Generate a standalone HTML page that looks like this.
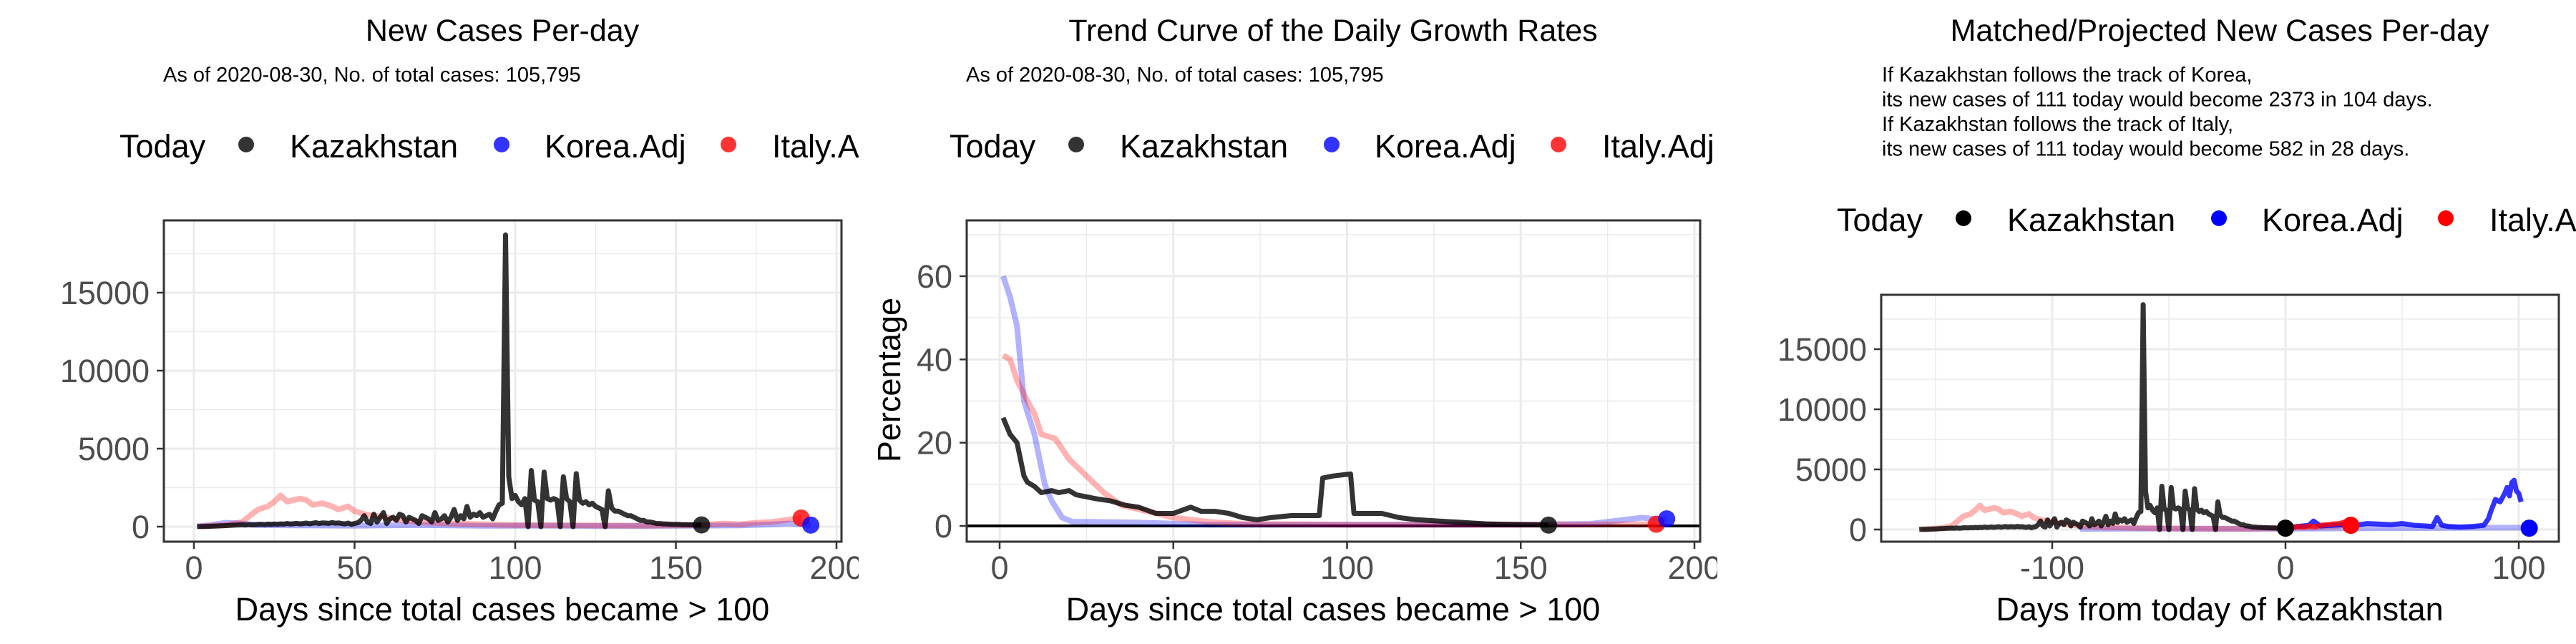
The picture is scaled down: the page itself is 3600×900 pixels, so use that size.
<!DOCTYPE html>
<html><head><meta charset="utf-8"><style>
html,body{margin:0;padding:0;background:#fff;}
body{width:3600px;height:900px;position:relative;overflow:hidden;font-family:"Liberation Sans",Arial,sans-serif;}
svg{position:absolute;top:0;overflow:hidden;}
</style></head><body>
<svg id="p1" width="1200" height="900" style="left:0"></svg>
<svg id="p2" width="1200" height="900" style="left:1200px"></svg>
<svg id="p3" width="1200" height="900" style="left:2400px"></svg>
<script>
// ---- data ----
const kazDaily = [5,15,10,20,25,30,40,50,60,70,80,90,100,110,120,100,130,110,120,140,
150,130,160,140,170,150,180,160,200,170,190,210,180,200,230,190,220,250,200,240,230,210,260,220,240,200,180,230,150,200,
250,400,700,300,200,800,300,600,900,200,500,600,400,800,700,300,600,500,400,200,700,600,500,300,900,400,500,700,300,600,1100,400,700,500,1300,600,800,700,900,600,700,800,500,1000,1400,1500,
18700,3200,1800,2000,1600,1400,1800,0,3600,1700,1600,0,3500,1800,1700,1800,1700,0,3200,1800,1600,0,3400,1700,1500,1600,1400,1500,1300,1200,1100,0,2300,1200,1000,1000,900,800,700,700,600,500,400,400,300,300,250,200,200,180,170,160,150,150,140,130,130,120,120,115,112,111];
const koreaDays = [1,5,10,15,20,30,50,70,90,110,130,150,170,180,185,192];
const koreaVals = [20,100,250,200,100,80,60,100,50,60,40,50,80,150,200,100];
const italyDays = [2,10,15,18,20,23,25,27,29,31,33,35,37,40,43,45,48,50,53,56,60,65,70,75,80,90,100,120,140,158,165,170,175,180,185,189];
const italyVals = [20,100,300,800,1100,1300,1600,2000,1600,1700,1800,1700,1400,1500,1300,1100,1300,1000,800,700,600,400,300,250,200,150,100,80,60,111,200,150,250,300,450,550];
const kazRateDays = [1,3,5,7,8,10,12,15,17,20,22,25,28,32,36,40,45,50,55,58,62,66,70,74,78,84,92,93,96,101,102,105,110,115,120,130,140,150,158];
const kazRateVals = [26,22,20,12,10.5,9.5,8,8.5,8,8.5,7.5,7,6.5,6,5,4.5,3,3,4.5,3.5,3.5,3,2,1.5,2,2.5,2.5,11.5,12,12.5,3,3,3,2,1.5,1,0.5,0.3,0.2];
const korRateDays = [1,3,5,7,10,13,15,18,21,25,40,60,100,150,170,180,185,190,192];
const korRateVals = [60,55,48,30,22,10,6,2,1,1,0.8,0.3,0.3,0.3,0.5,1.5,2,1.5,1.7];
const itaRateDays = [1,3,5,8,10,12,16,20,25,30,35,40,45,50,60,70,100,150,189];
const itaRateVals = [41,40,35,30,27,22,21,16,12,8,5,4,3,2,1,0.5,0.3,0.3,0.4];
const korProjDays = [0,5,10,12,15,20,25,30,35,40,45,50,55,60,63,65,67,70,75,80,85,87,88,90,92,94,95,96,97,98,99,100,101];
const korProjVals = [111,250,350,700,300,350,400,350,500,450,400,500,350,300,250,1000,350,250,200,250,350,900,1500,2500,2300,3000,3500,2800,3900,4100,3200,3000,2300];
const itaProjDays = [0,3,5,8,10,13,15,18,20,23,25,28];
const itaProjVals = [111,150,250,200,300,250,350,400,450,500,600,582];
const korFaintDays = [-88,-60,-30,0,30,60,90,104];
const korFaintVals = [50,80,60,60,100,120,150,150];
const p1XTicks = [0,50,100,150,200];
const p1YTicks = [0,5000,10000,15000];
const p2YTicks = [0,20,40,60];
const p3XTicks = [-100,0,100];

const NS = "http://www.w3.org/2000/svg";
function el(svg, tag, attrs, text){
  const e = document.createElementNS(NS, tag);
  for (const k in attrs) e.setAttribute(k, attrs[k]);
  if (text !== undefined) e.textContent = text;
  svg.appendChild(e);
  return e;
}
function lin(d0,d1,r0,r1){ return v => r0 + (v-d0)/(d1-d0)*(r1-r0); }

function frame(svg, o){
  const sx=o.sx, sy=o.sy;
  o.xMinor.forEach(v=>{ const g=el(svg,'line',{x1:sx(v),x2:sx(v),y1:o.top,y2:o.bottom,stroke:'#ebebeb','stroke-width':1.5});
      });
  o.yMinor.forEach(v=>{ const g=el(svg,'line',{x1:o.left,x2:o.right,y1:sy(v),y2:sy(v),stroke:'#ebebeb','stroke-width':1.5});
      });
  o.xTicks.forEach(v=>{ const g=el(svg,'line',{x1:sx(v),x2:sx(v),y1:o.top,y2:o.bottom,stroke:'#ebebeb','stroke-width':3});
     
    const t=el(svg,'line',{x1:sx(v),x2:sx(v),y1:o.bottom,y2:o.bottom+10,stroke:'#333','stroke-width':2.5});
     
    const l=el(svg,'text',{x:sx(v),y:809,'text-anchor':'middle','font-size':45,fill:'#4d4d4d'},String(v));
      });
  o.yTicks.forEach(v=>{ const g=el(svg,'line',{x1:o.left,x2:o.right,y1:sy(v),y2:sy(v),stroke:'#ebebeb','stroke-width':3});
     
    const t=el(svg,'line',{x1:o.left-10,x2:o.left,y1:sy(v),y2:sy(v),stroke:'#333','stroke-width':2.5});
     
    const l=el(svg,'text',{x:o.left-20,y:sy(v)+16,'text-anchor':'end','font-size':45,fill:'#4d4d4d'},String(v));
      });
}
function border(svg,o){
  const b=el(svg,'rect',{x:o.left,y:o.top,width:o.right-o.left,height:o.bottom-o.top,fill:'none',stroke:'#333','stroke-width':3});
   
}
function line(svg,xs,ys,o,color,op,w,name){
  const d = xs.map((x,i)=>(i?'L':'M')+o.sx(x).toFixed(1)+','+o.sy(ys[i]).toFixed(1)).join('');
  const p=el(svg,'path',{d:d,fill:'none',stroke:color,'stroke-opacity':op,'stroke-width':w,'stroke-linejoin':'round'});
   
}
function dot(svg,x,y,o,color,name){
  const c=el(svg,'circle',{cx:o.sx(x),cy:o.sy(y),r:12,fill:color});
   
}
function legend(svg,y,dx,cols){
  const t=el(svg,'text',{x:167-dx,y:y,'font-size':45,fill:'#000'},'Today');
   
  const items=[['Kazakhstan',344,405,cols[0]],['Korea.Adj',701,761,cols[1]],['Italy.Adj',1018,1079,cols[2]]];
  items.forEach(it=>{
    const c=el(svg,'circle',{cx:it[1]-dx,cy:y-18,r:11,fill:it[3]});
     
    const l=el(svg,'text',{x:it[2]-dx,y:y,'font-size':45,fill:'#000'},it[0]);
     
  });
}
function title(svg,cx,txt){
  const t=el(svg,'text',{x:cx,y:57,'text-anchor':'middle','font-size':43,fill:'#000'},txt);
   
}
function xtitle(svg,cx,txt){
  const t=el(svg,'text',{x:cx,y:867,'text-anchor':'middle','font-size':45,fill:'#000'},txt);
   
}
const dayIdx = kazDaily.map((v,i)=>i+1);
const BK='rgba(0,0,0,0.8)', BL='rgba(0,0,255,0.8)', RD='rgba(255,0,0,0.8)';

// ---- panel 1 ----
(function(){
  const svg=document.getElementById('p1');
  const o={left:229,right:1176,top:308,bottom:757};
  o.sx=lin(0,200,271,1169); o.sy=lin(0,15000,736,409);
  o.xTicks=p1XTicks; o.yTicks=p1YTicks; o.xMinor=[25,75,125,175]; o.yMinor=[2500,7500,12500,17500];
  frame(svg,o);
  line(svg,koreaDays,koreaVals,o,'#0000ff',0.3,8,'korea-line');
  line(svg,italyDays,italyVals,o,'#ff0000',0.3,8,'italy-line');
  line(svg,dayIdx,kazDaily,o,'#000',0.8,7,'kazakhstan-line');
  dot(svg,158,kazDaily[157],o,BK,'kazakhstan-today-point');
  dot(svg,189,italyVals[italyVals.length-1],o,RD,'italy-today-point');
  dot(svg,192,koreaVals[koreaVals.length-1],o,BL,'korea-today-point');
  border(svg,o);
  title(svg,702,'New Cases Per-day');
  const s=el(svg,'text',{x:228,y:114,'font-size':29,fill:'#000'},'As of 2020-08-30, No. of total cases: 105,795');
   
  legend(svg,220,0,[BK,BL,RD]);
  xtitle(svg,702,'Days since total cases became > 100');
})();

// ---- panel 2 ----
(function(){
  const svg=document.getElementById('p2');
  const o={left:151,right:1176,top:308,bottom:757};
  o.sx=lin(0,200,197,1168); o.sy=lin(0,60,735,386);
  o.xTicks=p1XTicks; o.yTicks=p2YTicks; o.xMinor=[25,75,125,175]; o.yMinor=[10,30,50,70];
  frame(svg,o);
  const z=el(svg,'line',{x1:o.left,x2:o.right,y1:o.sy(0),y2:o.sy(0),stroke:'#000','stroke-width':4});
   
  line(svg,korRateDays,korRateVals,o,'#0000ff',0.3,8,'korea-rate-line');
  line(svg,itaRateDays,itaRateVals,o,'#ff0000',0.3,8,'italy-rate-line');
  line(svg,kazRateDays,kazRateVals,o,'#000',0.8,7,'kazakhstan-rate-line');
  dot(svg,158,kazRateVals[kazRateVals.length-1],o,BK,'kazakhstan-today-point');
  dot(svg,189,itaRateVals[itaRateVals.length-1],o,RD,'italy-today-point');
  dot(svg,192,korRateVals[korRateVals.length-1],o,BL,'korea-today-point');
  border(svg,o);
  title(svg,663,'Trend Curve of the Daily Growth Rates');
  const s=el(svg,'text',{x:150,y:114,'font-size':29,fill:'#000'},'As of 2020-08-30, No. of total cases: 105,795');
   
  legend(svg,220,40,[BK,BL,RD]);
  xtitle(svg,663,'Days since total cases became > 100');
  const yt=el(svg,'text',{x:0,y:0,'text-anchor':'middle','font-size':45,fill:'#000',transform:'translate(58,531) rotate(-90)'},'Percentage');
   
})();

// ---- panel 3 ----
(function(){
  const svg=document.getElementById('p3');
  const o={left:229,right:1176,top:412,bottom:757};
  o.sx=lin(0,100,794,1120); o.sy=lin(0,15000,740,488);
  o.xTicks=p3XTicks; o.yTicks=p1YTicks; o.xMinor=[-150,-50,50]; o.yMinor=[2500,7500,12500,17500];
  frame(svg,o);
  line(svg,korFaintDays,korFaintVals,o,'#0000ff',0.3,8,'korea-matched-line');
  line(svg,italyDays.map(d=>d-158),italyVals,o,'#ff0000',0.3,8,'italy-matched-line');
  line(svg,dayIdx.map(d=>d-158),kazDaily,o,'#000',0.8,7,'kazakhstan-line');
  line(svg,korProjDays,korProjVals,o,'#0000ff',0.8,7,'korea-projection-line');
  line(svg,itaProjDays,itaProjVals,o,'#ff0000',0.8,7,'italy-projection-line');
  dot(svg,0,111,o,'#000','kazakhstan-today-point');
  dot(svg,28,350,o,'#ff0000','italy-projection-point');
  dot(svg,104.5,111,o,'#0000ff','korea-projection-point');
  border(svg,o);
  title(svg,702,'Matched/Projected New Cases Per-day');
  const lines=['If Kazakhstan follows the track of Korea,','its new cases of 111 today would become 2373 in 104 days.','If Kazakhstan follows the track of Italy,','its new cases of 111 today would become 582 in 28 days.'];
  lines.forEach((t,i)=>{ const s=el(svg,'text',{x:230,y:114+i*34.5,'font-size':29,fill:'#000'},t);
      });
  legend(svg,323,0,['#000','#0000ff','#ff0000']);
  xtitle(svg,702,'Days from today of Kazakhstan');
})();
</script>
</body></html>
